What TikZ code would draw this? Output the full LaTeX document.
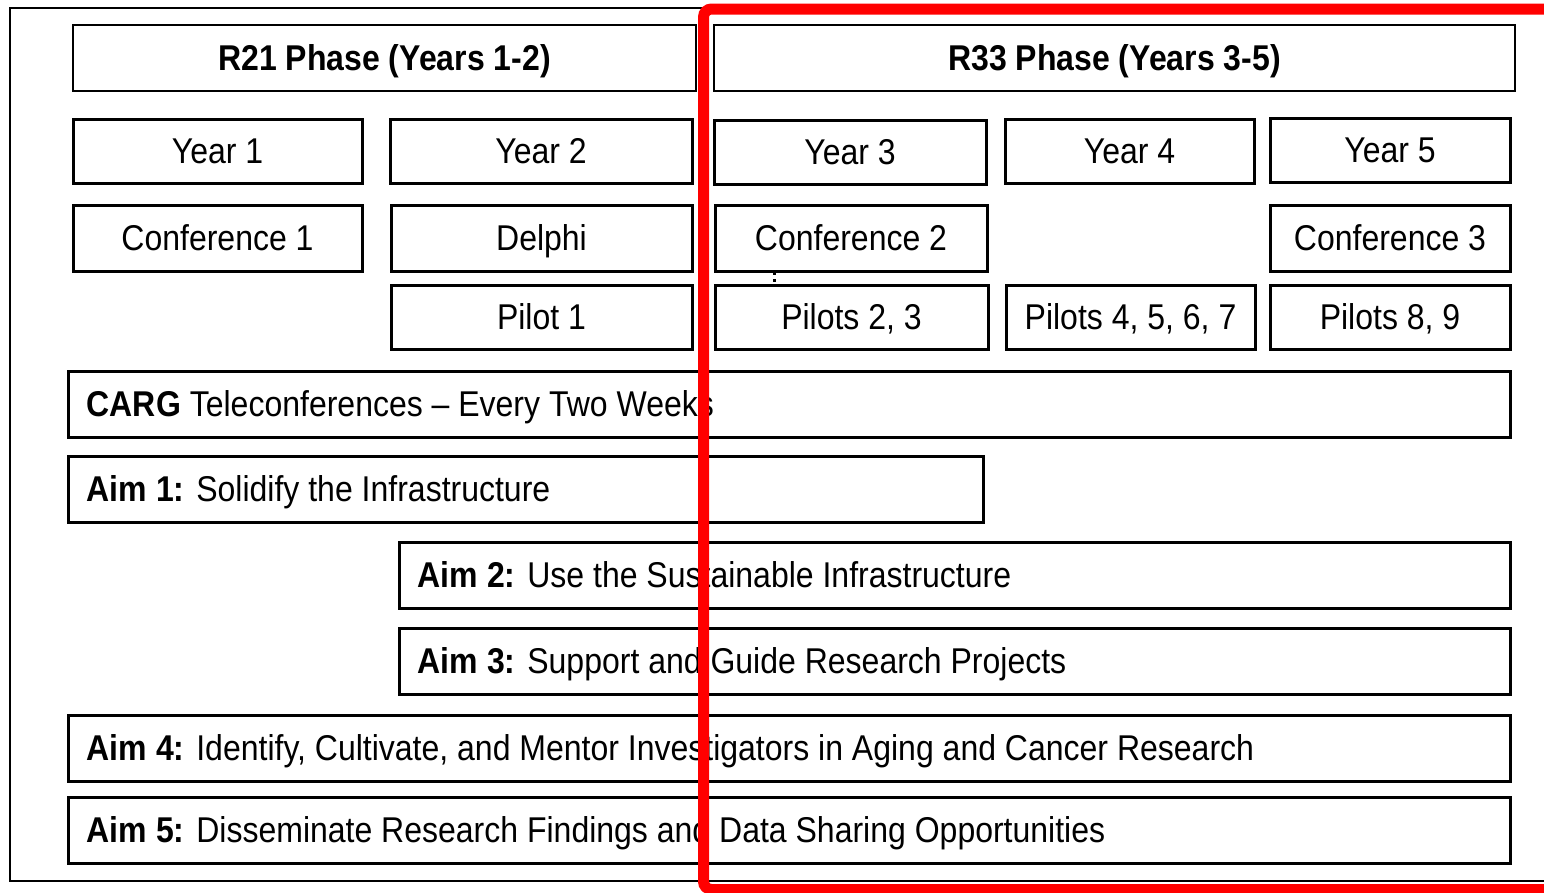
\documentclass[tikz,border=0pt]{standalone}
\usepackage{fontspec}
\setmainfont{Liberation Sans}
\usepackage{graphicx}
\newcommand\vsc[1]{\scalebox{1}[1.12]{#1}}
\tikzset{
  bx/.style={draw=black, line width=3pt, inner sep=0pt, outer sep=0pt, fill=white},
  hbx/.style={bx, line width=2pt},
  txt/.style={inner sep=0pt, font=\fontsize{32}{38}\selectfont},
  frame/.style={draw=black, line width=2.5pt},
  redline/.style={draw=red, line width=11pt, rounded corners=8pt},
}
% name, x1, y1, x2, y2, text (centred)
\newcommand\cbox[7][bx]{%
  \node[#1, minimum width={#5-#3}, minimum height={#6-#4}] (#2) at ({(#3+#5)/2},{(#4+#6)/2}) {};
  \node[txt, anchor=base] (#2-t) at ([yshift=-12.5pt]#2.center) {\vsc{#7}};}
% name, x1, y1, x2, y2, text (left)
\newcommand\lbox[6]{%
  \node[bx, minimum width={#4-#2}, minimum height={#5-#3}] (#1) at ({(#2+#4)/2},{(#3+#5)/2}) {};
  \node[txt, anchor=base west] (#1-t) at ([xshift=18.5pt,yshift=-12.5pt]#1.west) {\vsc{#6}};}
\begin{document}
\begin{tikzpicture}[x=1pt,y=-1pt]
\useasboundingbox (0,0) rectangle (1544,892);
\clip (0,0) rectangle (1544,892);
\fill[white] (0,0) rectangle (1544,892);
\draw[frame] (10,8) rectangle (1570,881);
\cbox[hbx]{r21}{73}{25}{696}{91}{\bfseries R21 Phase (Years 1-2)}
\cbox[hbx]{r33}{714}{25}{1515}{91}{\bfseries R33 Phase (Years 3-5)}
\cbox{y1}{73}{119}{362}{183}{Year 1}
\cbox{y2}{390}{119}{692}{183}{Year 2}
\cbox{y3}{714}{120}{986}{184}{Year 3}
\cbox{y4}{1005}{119}{1254}{183}{Year 4}
\cbox{y5}{1270}{118}{1510}{182}{Year 5}
\cbox{c1}{73}{205}{362}{271}{Conference 1}
\cbox{delphi}{391}{205}{692}{271}{Delphi}
\cbox{c2}{715}{205}{987}{271}{Conference 2}
\cbox{c3}{1270}{205}{1510}{271}{Conference 3}
\cbox{p1}{391}{285}{692}{349}{Pilot 1}
\cbox{p23}{715}{285}{988}{349}{Pilots 2, 3}
\cbox{p4567}{1006}{285}{1255}{349}{Pilots 4, 5, 6, 7}
\cbox{p89}{1270}{285}{1510}{349}{Pilots 8, 9}
\lbox{carg}{68}{371}{1510}{437}{\textbf{CARG} Teleconferences – Every Two Weeks}
\lbox{aim1}{68}{456}{983}{522}{\textbf{Aim 1:} Solidify the Infrastructure}
\lbox{aim2}{399}{542}{1510}{608}{\textbf{Aim 2:} Use the Sustainable Infrastructure}
\lbox{aim3}{399}{628}{1510}{694}{\textbf{Aim 3:} Support and Guide Research Projects}
\lbox{aim4}{68}{715}{1510}{781}{\textbf{Aim 4:} Identify, Cultivate, and Mentor Investigators in Aging and Cancer Research}
\lbox{aim5}{68}{797}{1510}{863}{\textbf{Aim 5:} Disseminate Research Findings and Data Sharing Opportunities}
\fill[black] (773,272.5) rectangle (775.5,275);
\fill[black] (773,279) rectangle (775.5,281.5);
\draw[redline] (1580,9) -- (703.5,9) -- (703.5,889.5) -- (1580,889.5);
\end{tikzpicture}
\end{document}
